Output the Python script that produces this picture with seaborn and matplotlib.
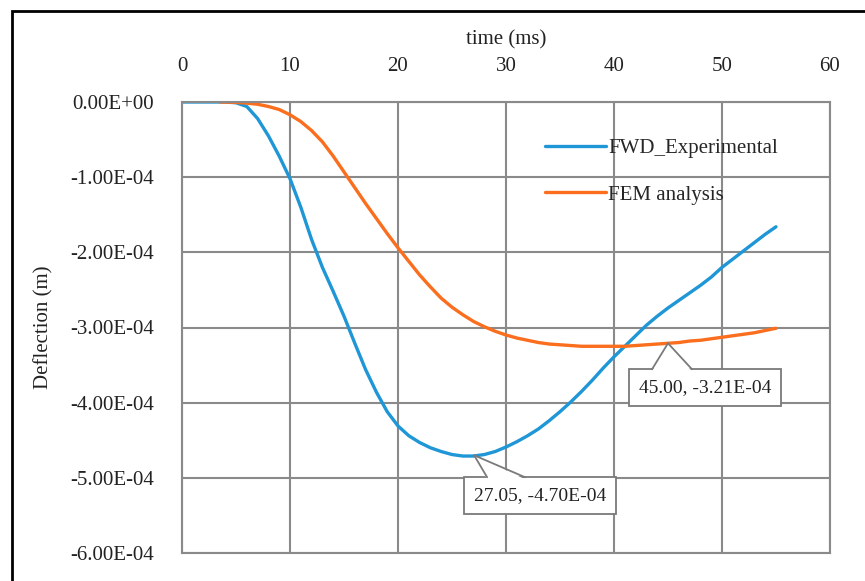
import numpy as np
import pandas as pd
import matplotlib
matplotlib.use("Agg")
import matplotlib.pyplot as plt
import matplotlib.patches as mpatches
import matplotlib.transforms as mtransforms
from matplotlib.ticker import FuncFormatter
import seaborn as sns

# ---- data (deflection in units of 1e-4 m) ----
fwd_t = [0, 1, 2, 3, 4, 5, 6, 7, 8, 9, 10, 11, 12, 13, 14, 15, 16, 17, 18, 19,
         20, 21, 22, 23, 24, 25, 26, 27, 28, 29, 30, 31, 32, 33, 34, 35, 36, 37,
         38, 39, 40, 41, 42, 43, 44, 45, 46, 47, 48, 49, 50, 51, 52, 53, 54, 55]
fwd_d = [0, 0, 0, 0, 0, -0.01, -0.06, -0.22, -0.45, -0.72, -1.02, -1.40, -1.83,
         -2.20, -2.52, -2.85, -3.21, -3.56, -3.86, -4.12, -4.31, -4.44, -4.53,
         -4.60, -4.65, -4.69, -4.71, -4.71, -4.69, -4.65, -4.59, -4.52, -4.44,
         -4.35, -4.24, -4.12, -3.99, -3.85, -3.70, -3.54, -3.39, -3.25, -3.11,
         -2.97, -2.85, -2.74, -2.64, -2.54, -2.44, -2.33, -2.20, -2.09, -1.98,
         -1.87, -1.76, -1.66]

fem_t = [3.5, 5, 6, 7, 8, 9, 10, 11, 12, 13, 14, 15, 16, 17, 18, 19, 20, 21, 22,
         23, 24, 25, 26, 27, 28, 29, 30, 31, 32, 33, 34, 35, 36, 37, 38, 39, 40,
         41, 42, 43, 44, 45, 46, 47, 48, 49, 50, 51, 52, 53, 54, 55]
fem_d = [0, -0.005, -0.015, -0.03, -0.06, -0.10, -0.17, -0.26, -0.38, -0.53,
         -0.72, -0.93, -1.14, -1.35, -1.55, -1.75, -1.94, -2.12, -2.30, -2.46,
         -2.61, -2.73, -2.83, -2.92, -2.99, -3.05, -3.10, -3.14, -3.17, -3.20,
         -3.22, -3.23, -3.24, -3.25, -3.25, -3.25, -3.25, -3.25, -3.24, -3.23,
         -3.22, -3.21, -3.20, -3.18, -3.17, -3.15, -3.13, -3.11, -3.09, -3.07,
         -3.04, -3.01]

series_names = ["FWD_Experimental", "FEM analysis"]
x_ticks = [0, 10, 20, 30, 40, 50, 60]
y_ticks = [0, -1e-4, -2e-4, -3e-4, -4e-4, -5e-4, -6e-4]
annot1 = (27.05, -4.70e-4, "27.05, -4.70E-04")
annot2 = (45.00, -3.21e-4, "45.00, -3.21E-04")

df = pd.concat([
    pd.DataFrame({"t": fwd_t, "d": np.array(fwd_d) * 1e-4, "series": series_names[0]}),
    pd.DataFrame({"t": fem_t, "d": np.array(fem_d) * 1e-4, "series": series_names[1]}),
], ignore_index=True)

sns.set_theme(style="white")
plt.rcParams["font.family"] = ["Liberation Serif", "DejaVu Serif"]

W, H = 865, 581
fig = plt.figure(figsize=(W / 100, H / 100), dpi=100)
ax = fig.add_axes([182 / W, 1 - 553 / H, (830 - 182) / W, (553 - 102) / H])

blue = "#1F96D6"
orange = "#FA6E1E"
sns.lineplot(data=df, x="t", y="d", hue="series", hue_order=series_names,
             palette=[blue, orange], linewidth=2.4, ax=ax, sort=False,
             estimator=None)

ax.set_xlim(0, 60)
ax.set_ylim(-6e-4, 0)
ax.set_xticks(x_ticks)
ax.set_yticks(y_ticks)
ax.xaxis.tick_top()
ax.xaxis.set_label_position("top")
ax.yaxis.set_major_formatter(FuncFormatter(
    lambda v, p: "0.00E+00" if abs(v) < 1e-12 else f"{v:.2E}"))
ax.tick_params(axis="both", length=0, labelsize=15, colors="#222222")
ax.tick_params(axis="x", pad=19)
ax.tick_params(axis="y", pad=20)
ax.grid(True, color="#8a8a8a", linewidth=1.5)
for s in ax.spines.values():
    s.set_color("#8a8a8a")
    s.set_linewidth(1.5)
ax.set_xlabel("time (ms)", fontsize=15, color="#222222", labelpad=9)
ax.set_ylabel("Deflection (m)", fontsize=15, color="#222222")
ax.yaxis.set_label_coords(-0.198, 0.5)

leg = ax.legend(loc="upper left", bbox_to_anchor=(0.548, 0.938), frameon=False,
                fontsize=15, handlelength=2.9, handletextpad=0.1,
                labelspacing=1.3, borderaxespad=0)
for lh in leg.get_lines():
    lh.set_linewidth(2.4)

# ---- data-label callouts ----
edge = "#7a7a7a"
bbox_kw = dict(boxstyle="square,pad=0.5", fc="white", ec=edge, lw=1.3)


def callout(pt, text, off, base_l, base_r):
    # off: text-box centre offset in pixels from the point; base_*: wedge base
    ax.annotate(text, xy=(pt[0], pt[1]), xytext=off, textcoords="offset pixels",
                ha="center", va="center", fontsize=14, color="#222222",
                bbox=bbox_kw, zorder=5)
    tip = ax.transData.transform((pt[0], pt[1]))
    tr = mtransforms.Affine2D().translate(tip[0], tip[1])
    fill = mpatches.Polygon([(0, 0), (base_l[0], base_l[1] - 2),
                             (base_r[0], base_r[1] - 2)], closed=True,
                            transform=tr, fc="white", ec="none", zorder=6)
    fig.add_artist(fill)
    for b in (base_l, base_r):
        ln = plt.Line2D([0, b[0]], [0, b[1]], transform=tr, color=edge, lw=1.3,
                        zorder=7)
        fig.add_artist(ln)


callout(annot1, annot1[2], (66, -40), (13, -22), (51, -22))
callout(annot2, annot2[2], (37, -44), (-16, -26), (24, -26))

frame = mpatches.Rectangle((12 / W, -0.2), 1.2, 1 - 11 / H + 0.2,
                           transform=fig.transFigure, fill=False,
                           ec="black", lw=2.0, clip_on=False)
fig.patches.append(frame)

fig.savefig("out.png", dpi=100)
